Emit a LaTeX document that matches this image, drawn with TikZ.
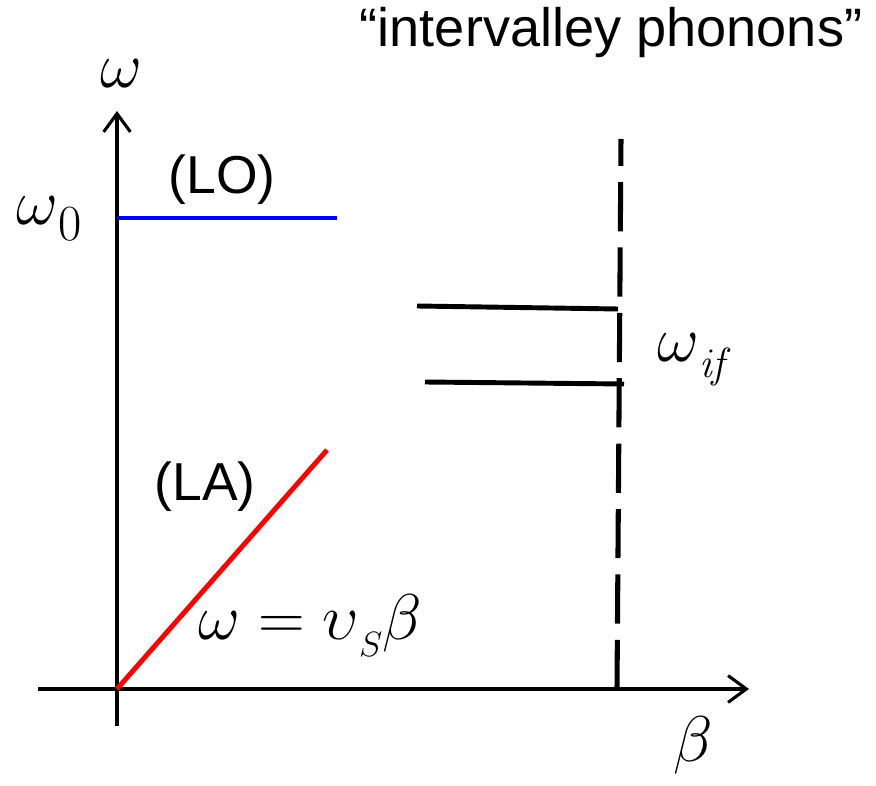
\RequirePackage{fix-cm}
\documentclass[tikz,border=0pt]{standalone}
\usepackage[no-math]{fontspec}
\setmainfont{Liberation Sans}
\usetikzlibrary{arrows.meta}

\newcommand{\mth}[1]{{\fontsize{46}{52}\selectfont$#1$}}
\newcommand{\lbl}[1]{{\fontsize{38}{44}\selectfont #1}}

\tikzset{
  axisline/.style={line width=2.2pt,-{Straight Barb[length=13pt,width=19pt,line width=2.2pt]}},
  branch/.style={line width=3.5pt},
  cutoff/.style={line width=3.6pt,dash pattern=on 35pt off 11.5pt},
}

\begin{document}
\begin{tikzpicture}[x=0.025cm,y=-0.025cm]
    \useasboundingbox (0,0) rectangle (876,786);
    % axes
    \coordinate (origin) at (117,689);
    \coordinate (xleft) at (38,689);
    \coordinate (xend) at (749,689);
    \coordinate (ylow) at (117,726);
    \coordinate (yend) at (117,111);
    \draw[axisline] (xleft) -- (xend);
    \draw[axisline] (ylow) -- (yend);
    \node[anchor=base] (wlabel) at (121,88) {\mth{\omega}};
    \node[anchor=base] (blabel) at (693,762) {\mth{\beta}};
    % LO branch
    \coordinate (lostart) at (117,218);
    \coordinate (loend) at (337,218);
    \draw[branch,blue] (lostart) -- (loend);
    \node[anchor=base west,inner sep=0pt] (wzero) at (16,225) {\mth{\omega\raisebox{-11pt}{\fontsize{36}{38}\selectfont$\mathrm{0}$}}};
    \node[anchor=base] (lo) at (222,194) {\lbl{(LO)}};
    % LA branch
    \coordinate (laend) at (327,450);
    \draw[branch,red] (origin) -- (laend);
    \node[anchor=base] (la) at (205,501) {\lbl{(LA)}};
    \node[anchor=base west,inner sep=0pt] (slope) at (198,640) {\mth{\omega = \upsilon\raisebox{-12pt}{\fontsize{25}{27}\selectfont$S$}\beta}};
    % intervalley
    \coordinate (ztop) at (621,139);
    \coordinate (zbot) at (617,689);
    \draw[cutoff] (zbot) -- (ztop);
    \coordinate (ifa) at (417,306);
    \coordinate (ifb) at (618,309);
    \coordinate (ifc) at (425,382);
    \coordinate (ifd) at (624,384);
    \draw[branch] (ifa) -- (ifb);
    \draw[branch] (ifc) -- (ifd);
    \node[anchor=base west,inner sep=0pt] (wif) at (657,362) {\mth{\omega\raisebox{-11pt}{\fontsize{30}{32}\selectfont$\mathit{if}$}}};
    \node[anchor=base] (title) at (611,47) {{\fontsize{38.5}{44}\selectfont “intervalley phonons”}};
\end{tikzpicture}
\end{document}
